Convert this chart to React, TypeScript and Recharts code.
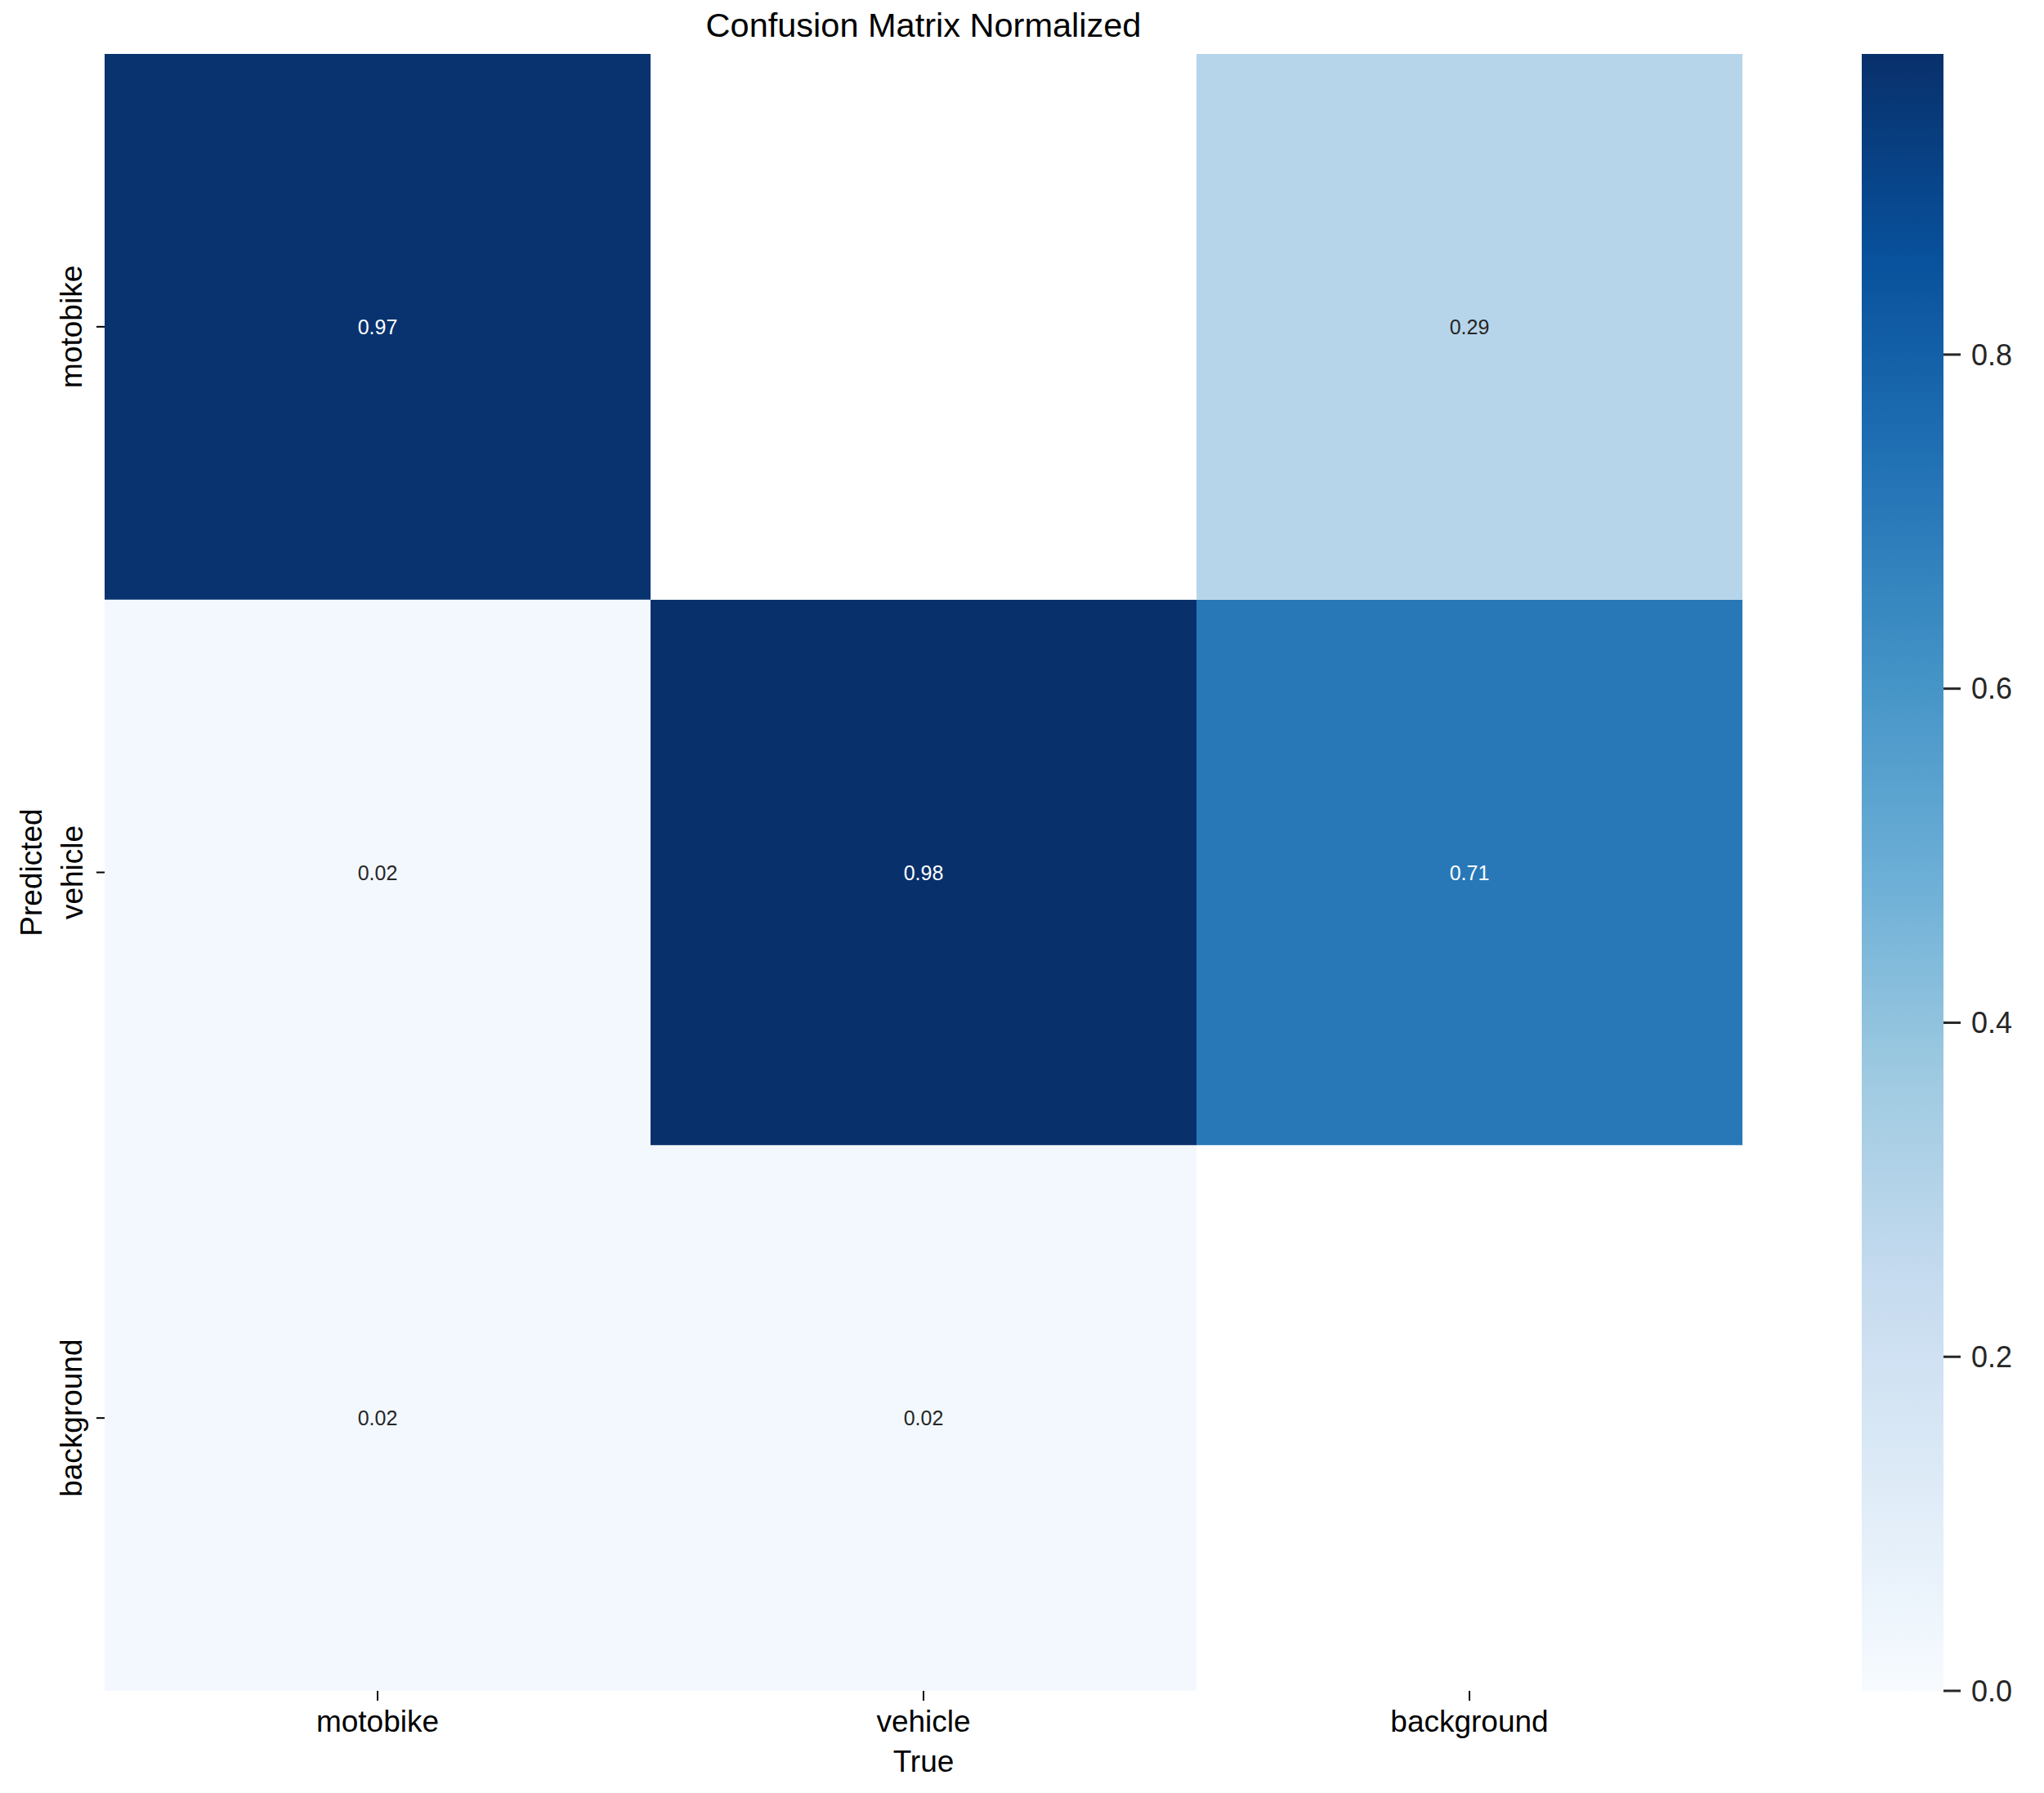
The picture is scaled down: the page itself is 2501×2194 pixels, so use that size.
import React from 'react';
import { BarChart, Bar, XAxis, YAxis, Cell, LabelList } from 'recharts';

// ---- data ----
const trueLabels = ['motobike', 'vehicle', 'background'];
const predictedLabels = ['motobike', 'vehicle', 'background'];
// rows of the matrix (predicted), columns = true class; null = masked (blank) cell
const predMotobike: (number | null)[] = [0.97, null, 0.29];
const predVehicle: (number | null)[] = [0.02, 0.98, 0.71];
const predBackground: (number | null)[] = [0.02, 0.02, null];
const colorbarTicks = [0, 0.2, 0.4, 0.6, 0.8];
const titleText = 'Confusion Matrix Normalized';
const xLabelText = 'True';
const yLabelText = 'Predicted';

const rowByKey: Record<string, (number | null)[]> = {
  motobike: predMotobike,
  vehicle: predVehicle,
  background: predBackground,
};
// stack order bottom -> top
const stackKeys = [predictedLabels[2], predictedLabels[1], predictedLabels[0]];

const allValues = [...predMotobike, ...predVehicle, ...predBackground].filter(
  (v): v is number => v !== null
);
const vmax = Math.max(...allValues);

const chartData = trueLabels.map((name, j) => {
  const d: any = { name };
  stackKeys.forEach((k) => {
    d[k] = 1;
    d[k + 'Val'] = rowByKey[k][j];
  });
  return d;
});

const colorbarData = [{ name: 'cb', v: vmax }];

// ---- matplotlib "Blues" colormap ----
const BLUES = ['#f7fbff', '#deebf7', '#c6dbef', '#9ecae1', '#6baed6', '#4292c6', '#2171b5', '#08519c', '#08306b'];
const hexToRgb = (h: string) => [parseInt(h.slice(1, 3), 16), parseInt(h.slice(3, 5), 16), parseInt(h.slice(5, 7), 16)];
function blues(t: number): number[] {
  const c = Math.max(0, Math.min(1, t)) * (BLUES.length - 1);
  const i = Math.min(BLUES.length - 2, Math.floor(c));
  const f = c - i;
  const a = hexToRgb(BLUES[i]);
  const b = hexToRgb(BLUES[i + 1]);
  return a.map((x, k) => Math.round(x + (b[k] - x) * f));
}
const rgbStr = (c: number[]) => `rgb(${c[0]},${c[1]},${c[2]})`;
function luminance(c: number[]) {
  const lin = c.map((v) => {
    const s = v / 255;
    return s <= 0.03928 ? s / 12.92 : Math.pow((s + 0.055) / 1.055, 2.4);
  });
  return 0.2126 * lin[0] + 0.7152 * lin[1] + 0.0722 * lin[2];
}
const cellFill = (v: number | null) => (v === null ? '#ffffff' : rgbStr(blues(v / vmax)));
const textFill = (v: number) => (luminance(blues(v / vmax)) > 0.408 ? '#262626' : '#ffffff');

const FONT = '"Liberation Sans", Arial, Helvetica, sans-serif';
const TICK_FS = 37;

const W = 2501;
const H = 2194;

const YTick = (props: any) => {
  const { x, y, payload } = props;
  const label = predictedLabels[2 - Math.floor(payload.value)];
  const cx = x - 28;
  return (
    <text
      x={cx}
      y={y}
      transform={`rotate(-90, ${cx}, ${y})`}
      textAnchor="middle"
      dominantBaseline="central"
      fontSize={TICK_FS}
      fontFamily={FONT}
      fill="#000000"
    >
      {label}
    </text>
  );
};

const makeLabel = (key: string) => (p: any) => {
  const v = p.value;
  if (v === null || v === undefined) return null;
  const x = Number(p.x) + Number(p.width) / 2;
  const y = Number(p.y) + Number(p.height) / 2;
  return (
    <text
      key={`${key}-${p.index}`}
      x={x}
      y={y}
      textAnchor="middle"
      dominantBaseline="central"
      fontSize={25}
      fontFamily={FONT}
      fill={textFill(v)}
    >
      {Number(v).toFixed(2)}
    </text>
  );
};

export default function App() {
  return (
    <div style={{ position: 'absolute', left: 0, top: 0, width: W, height: H, background: '#ffffff' }}>
      <div style={{ position: 'absolute', left: 0, top: 0 }}>
        <BarChart
          width={2200}
          height={H}
          data={chartData}
          margin={{ top: 66, right: 68, bottom: 0, left: 0 }}
          barCategoryGap={0}
          barGap={0}
        >
          <XAxis
            dataKey="name"
            type="category"
            height={125}
            axisLine={false}
            tickSize={12}
            tickMargin={12}
            tickLine={{ stroke: '#000000', strokeWidth: 2 }}
            tick={{ fontSize: TICK_FS, fontFamily: FONT, fill: '#000000' }}
            interval={0}
            label={{
              content: (lp: any) => {
                const vb = lp.viewBox || {};
                return (
                  <text
                    x={vb.x + vb.width / 2}
                    y={vb.y + 99}
                    textAnchor="middle"
                    fontSize={TICK_FS}
                    fontFamily={FONT}
                    fill="#000000"
                  >
                    {xLabelText}
                  </text>
                );
              },
            }}
          />
          <YAxis
            type="number"
            domain={[0, 3]}
            ticks={[0.5, 1.5, 2.5]}
            width={128}
            axisLine={false}
            tickSize={10}
            tickMargin={2}
            tickLine={{ stroke: '#000000', strokeWidth: 2 }}
            tick={<YTick />}
            label={{
              content: (lp: any) => {
                const vb = lp.viewBox || {};
                const cx = vb.x + 38;
                const cy = vb.y + vb.height / 2;
                return (
                  <text
                    x={cx}
                    y={cy}
                    transform={`rotate(-90, ${cx}, ${cy})`}
                    textAnchor="middle"
                    dominantBaseline="central"
                    fontSize={TICK_FS}
                    fontFamily={FONT}
                    fill="#000000"
                  >
                    {yLabelText}
                  </text>
                );
              },
            }}
          />
          {stackKeys.map((k) => (
            <Bar key={k} dataKey={k} stackId="cm" isAnimationActive={false}>
              {chartData.map((d, j) => (
                <Cell key={`${k}-${j}`} fill={cellFill(d[k + 'Val'])} stroke="none" />
              ))}
              <LabelList dataKey={k + 'Val'} content={makeLabel(k)} />
            </Bar>
          ))}
        </BarChart>
      </div>

      <div style={{ position: 'absolute', left: 2278, top: 0 }}>
        <BarChart
          width={W - 2278}
          height={H}
          data={colorbarData}
          margin={{ top: 66, right: 0, bottom: 125, left: 0 }}
          barCategoryGap={0}
          barGap={0}
        >
          <defs>
            <linearGradient id="cbGrad" x1="0" y1="1" x2="0" y2="0">
              {BLUES.map((c, i) => (
                <stop key={i} offset={`${(i / (BLUES.length - 1)) * 100}%`} stopColor={c} />
              ))}
            </linearGradient>
          </defs>
          <XAxis dataKey="name" type="category" hide />
          <YAxis
            type="number"
            orientation="right"
            domain={[0, vmax]}
            ticks={colorbarTicks}
            width={123}
            axisLine={false}
            tickSize={21}
            tickMargin={13}
            tickLine={{ stroke: '#262626', strokeWidth: 3 }}
            tick={{ fontSize: 36, fontFamily: FONT, fill: '#262626' }}
            tickFormatter={(v: number) => v.toFixed(1)}
            interval={0}
          />
          <Bar dataKey="v" fill="url(#cbGrad)" isAnimationActive={false} />
        </BarChart>
      </div>

      <svg
        width={W}
        height={100}
        style={{ position: 'absolute', left: 0, top: 0, pointerEvents: 'none' }}
      >
        <text x={1130} y={45} textAnchor="middle" fontSize={41.5} fontFamily={FONT} fill="#000000">
          {titleText}
        </text>
      </svg>
    </div>
  );
}
